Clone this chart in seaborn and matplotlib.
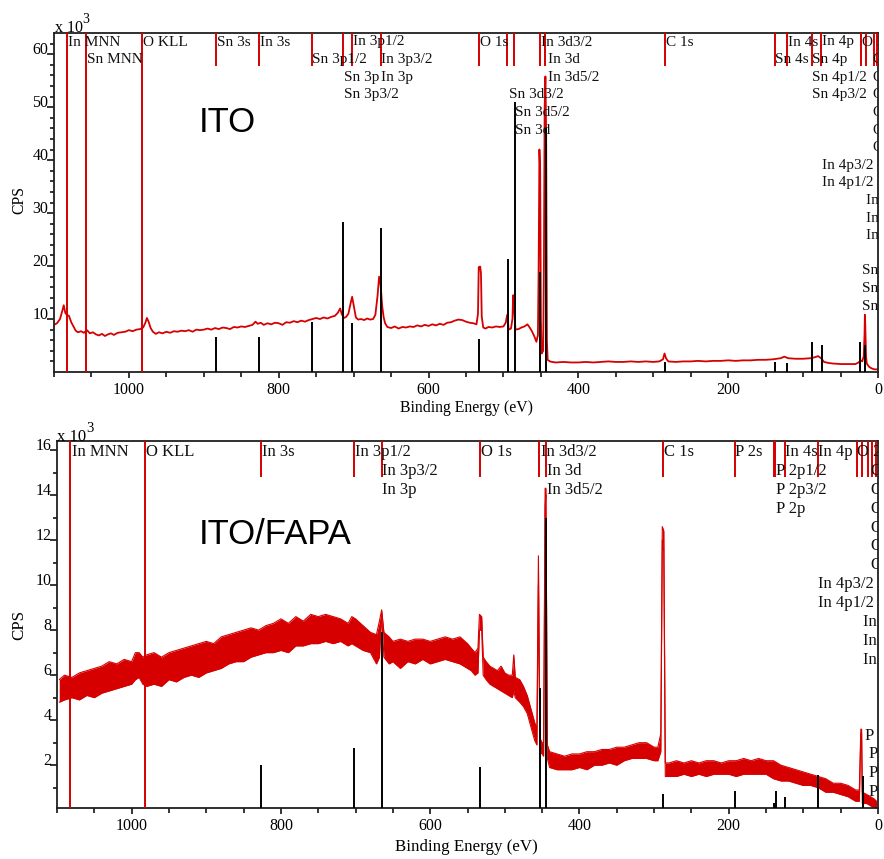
import numpy as np
import seaborn as sns
import matplotlib.pyplot as plt

# ---------------- data (binding energy in eV, counts in x10^3 CPS) ----------------
# ITO survey spectrum
ito_ev = [1100, 1096, 1092, 1089, 1087, 1085, 1083, 1080, 1077, 1074, 1071, 1068, 1064, 1060,
          1056, 1052, 1048, 1044, 1040, 1036, 1032, 1028, 1024, 1020, 1015, 1010, 1005, 1000,
          995, 990, 985, 981, 978, 976, 974, 971, 968, 964, 960, 955, 950, 945, 940, 935, 930,
          925, 920, 915, 910, 905, 900, 895, 890, 885, 880, 875, 870, 865, 860, 855, 850, 845,
          840, 835, 831, 828, 824, 820, 815, 810, 805, 800, 795, 790, 785, 780, 775, 770, 765,
          760, 755, 750, 745, 740, 735, 730, 725, 721, 718, 716, 713, 710, 707, 704, 702, 700,
          697, 694, 690, 686, 682, 678, 674, 671, 668, 666, 664, 662, 660, 658, 655, 650, 645,
          640, 635, 630, 625, 620, 615, 610, 605, 600, 595, 590, 585, 580, 575, 570, 565, 560,
          555, 550, 545, 540, 536, 534, 533, 531, 530, 529, 527, 524, 520, 515, 510, 505, 500,
          497, 495, 493, 490, 488, 487, 486, 484, 480, 476, 472, 468, 465, 462, 459, 456, 454,
          453, 452, 451, 450, 449, 447, 446, 445, 444, 443, 442, 441, 438, 435, 430, 420, 410,
          400, 390, 380, 370, 360, 350, 340, 330, 320, 310, 300, 292, 287, 285, 283, 280, 270,
          260, 250, 240, 230, 220, 210, 200, 190, 180, 170, 160, 150, 140, 130, 125, 120, 110,
          100, 90, 84, 80, 76, 72, 66, 60, 50, 40, 30, 26, 23, 21, 19, 18, 17.5, 17, 16, 15,
          12, 10, 7, 5, 2, 0]
ito_cps = [8.9, 9.2, 10.0, 11.5, 12.6, 11.2, 10.8, 10.6, 9.4, 8.6, 7.8, 7.5, 7.7, 7.4,
           7.9, 7.3, 7.5, 7.1, 6.9, 7.2, 6.8, 7.1, 7.3, 7.0, 7.4, 7.5, 7.6, 7.9,
           7.7, 8.0, 8.1, 8.4, 9.3, 10.2, 9.6, 8.3, 7.6, 7.2, 7.5, 7.3, 7.6, 7.4, 7.7, 7.6, 7.8,
           7.7, 7.9, 7.6, 8.0, 7.9, 8.0, 8.2, 8.0, 8.3, 8.1, 8.4, 8.3, 8.1, 8.5, 8.4, 8.6, 8.5,
           8.7, 8.9, 9.5, 9.1, 9.3, 8.9, 9.2, 9.0, 9.3, 9.2, 8.9, 9.4, 9.3, 9.6, 9.4, 9.7, 9.5,
           9.8, 10.0, 10.2, 10.0, 10.3, 10.1, 10.4, 10.6, 11.2, 12.0, 11.0, 10.2, 10.4, 11.0, 13.0, 14.2, 12.6,
           10.3, 9.9, 10.0, 9.8, 10.1, 9.9, 10.0, 10.8, 14.5, 18.0, 16.5, 12.6, 10.4, 9.2, 8.5, 8.3, 8.6,
           8.2, 8.5, 8.4, 8.6, 8.5, 8.8, 8.6, 8.9, 8.7, 9.0, 8.8, 9.1, 8.9, 9.3, 9.4, 9.7, 9.9,
           9.8, 9.5, 9.3, 9.2, 9.0, 11.0, 19.8, 19.9, 18.5, 10.5, 8.4, 8.2, 8.5, 8.4, 8.6, 8.5, 8.6,
           9.3, 10.8, 8.0, 8.2, 10.0, 14.5, 13.0, 8.0, 8.1, 8.4, 8.6, 9.0, 8.4, 7.7, 6.8, 5.7, 7.0,
           20.0, 42.0, 38.0, 10.0, 3.5, 4.0, 20.0, 50.0, 55.8, 45.0, 6.0, 2.3, 2.0, 1.9, 1.8, 1.9, 1.8,
           1.8, 1.9, 1.8, 1.9, 2.0, 1.9, 1.9, 2.0, 1.9, 2.0, 1.9, 2.0, 2.4, 3.5, 2.6, 2.0, 1.9,
           2.0, 2.0, 2.1, 2.0, 2.1, 2.1, 2.2, 2.1, 2.2, 2.2, 2.3, 2.3, 2.4, 2.6, 2.9, 2.6, 2.5,
           2.5, 2.6, 2.8, 3.0, 2.6, 1.9, 1.7, 1.6, 1.5, 1.5, 1.5, 1.8, 2.2, 2.0, 3.0, 7.0, 10.8, 9.0, 3.0, 1.6,
           1.0, 0.8, 0.6, 0.5, 0.5, 0.5]

# ITO reference sticks (black)
ito_stick_ev = [884, 827, 756, 714, 702, 664, 532, 494, 485, 451, 443, 284, 137, 121, 88, 75, 24, 17]
ito_stick_cps = [6.6, 6.6, 9.4, 28.3, 9.2, 27.2, 6.2, 21.3, 51.0, 18.9, 46.0, 1.9, 1.9, 1.7, 5.7, 5.1, 5.7, 5.1]

# ITO peak markers (red): Auger lines run full height, the rest are short ticks from the top
ito_full_ev = [1083, 1057, 983]
ito_mark_ev = [884, 827, 756, 714, 702, 664, 532, 495, 486, 451, 444, 284, 137, 121, 88, 76, 23, 16, 5, 2]

ito_labels = ["In MNN", "Sn MNN", "O KLL", "Sn 3s", "In 3s", "Sn 3p1/2", "In 3p1/2", "In 3p3/2",
              "Sn 3p", "In 3p", "Sn 3p3/2", "O 1s", "In 3d3/2", "In 3d", "In 3d5/2", "Sn 3d3/2",
              "Sn 3d5/2", "Sn 3d", "C 1s", "Sn 4s", "In 4s", "Sn 4p", "In 4p", "Sn 4p1/2",
              "Sn 4p3/2", "O 2s", "O 2s", "O 2s", "O 2s", "O 2s", "O 2s", "O 2s", "In 4p3/2",
              "In 4p1/2", "In 4d5/2", "In 4d3/2", "In 4d", "Sn 4d5/2", "Sn 4d3/2", "Sn 4d"]
ito_label_ev = [1081, 1056, 981, 883, 825, 755, 701, 663, 713, 663, 713, 531, 450, 441, 441, 493,
                485, 485, 283, 137, 120, 88, 75, 88, 88, 21, 7, 7, 7, 7, 7, 7, 75, 75, 16, 16, 16,
                21, 21, 21]
ito_label_row = [1, 2, 1, 1, 1, 2, 1, 2, 3, 3, 4, 1, 1, 2, 3, 4, 5, 6, 1, 2, 1, 2, 1, 3, 4,
                 1, 2, 3, 4, 5, 6, 7, 8, 9, 10, 11, 12, 14, 15, 16]

# ITO/FAPA survey spectrum: lower and upper edge of the noisy trace
fapa_ev = [1097, 1090, 1080, 1070, 1060, 1050, 1040, 1030, 1020, 1010, 1000, 995, 990, 985, 980,
           970, 960, 950, 940, 930, 920, 910, 900, 890, 880, 870, 860, 850, 840, 830, 820, 810,
           800, 790, 780, 770, 760, 750, 740, 730, 720, 710, 705, 700, 690, 680, 672, 668, 665,
           662, 655, 650, 640, 630, 620, 610, 600, 590, 580, 570, 560, 550, 545, 540, 536, 534,
           531, 529, 525, 520, 515, 510, 505, 500, 495, 490, 488, 486, 480, 475, 470, 465, 460,
           457, 455, 453, 450, 448, 446, 445, 443, 440, 430, 420, 410, 400, 390, 380, 370, 360,
           350, 340, 330, 320, 310, 300, 295, 291, 289, 287, 285, 280, 270, 260, 250, 240, 230,
           220, 210, 200, 190, 180, 170, 160, 150, 140, 130, 120, 110, 100, 90, 80, 70, 60, 50,
           40, 30, 25, 23, 22, 21, 15, 10, 5, 2]
fapa_lo = [4.8, 4.9, 5.0, 4.9, 5.1, 5.0, 5.2, 5.3, 5.4, 5.5, 5.6, 5.8, 5.9, 5.6, 5.5,
           5.6, 5.5, 5.8, 5.7, 5.9, 6.0, 5.9, 6.1, 6.2, 6.3, 6.5, 6.6, 6.6, 6.8, 6.9, 7.0, 7.0,
           7.1, 7.0, 7.3, 7.3, 7.4, 7.4, 7.5, 7.4, 7.5, 7.3, 7.4, 7.3, 7.1, 7.0, 6.5, 6.8, 8.7,
           6.8, 6.5, 6.6, 6.3, 6.6, 6.5, 6.7, 6.5, 6.6, 6.7, 6.6, 6.5, 6.3, 6.2, 6.0, 6.1, 8.0,
           8.0, 6.0, 5.8, 5.6, 5.5, 5.4, 5.3, 5.2, 5.1, 5.0, 5.3, 5.0, 4.8, 4.6, 4.3, 3.7, 3.1,
           2.9, 10.0, 2.6, 2.5, 2.4, 13.5, 14.0, 2.3, 1.9, 1.8, 1.8, 1.8, 1.9, 1.8, 2.0, 2.0, 2.1,
           2.0, 2.2, 2.3, 2.3, 2.3, 2.2, 2.2, 2.6, 12.0, 11.5, 1.5, 1.5, 1.5, 1.6, 1.5, 1.6, 1.5,
           1.6, 1.6, 1.6, 1.5, 1.6, 1.6, 1.6, 1.6, 1.4, 1.3, 1.3, 1.2, 1.1, 1.1, 1.0, 0.8, 0.8, 0.7,
           0.6, 0.4, 0.4, 3.4, 3.4, 0.3, 0.3, 0.2, 0.1, 0.1]
fapa_hi = [5.8, 6.0, 5.9, 6.1, 6.2, 6.3, 6.4, 6.6, 6.5, 6.7, 6.6, 7.0, 7.0, 6.8, 6.9,
           7.0, 6.8, 7.0, 7.1, 7.2, 7.3, 7.4, 7.5, 7.4, 7.7, 7.8, 7.9, 8.0, 8.1, 8.0, 8.2, 8.3,
           8.5, 8.3, 8.6, 8.4, 8.7, 8.6, 8.7, 8.6, 8.5, 8.3, 8.6, 8.5, 8.2, 7.9, 7.8, 8.4, 8.9,
           7.9, 7.7, 7.5, 7.6, 7.5, 7.6, 7.6, 7.5, 7.6, 7.7, 7.6, 7.7, 7.4, 7.2, 7.0, 7.2, 8.7,
           8.6, 6.8, 6.6, 6.4, 6.3, 6.2, 6.4, 6.1, 6.0, 6.0, 6.9, 5.9, 5.8, 5.5, 5.1, 4.5, 3.9,
           3.6, 11.3, 3.2, 3.0, 3.0, 14.3, 14.3, 2.9, 2.6, 2.5, 2.4, 2.5, 2.5, 2.6, 2.6, 2.7, 2.7,
           2.8, 2.8, 2.9, 3.0, 3.0, 2.8, 2.8, 3.4, 12.6, 12.4, 2.1, 2.1, 2.2, 2.1, 2.2, 2.1, 2.2,
           2.2, 2.1, 2.2, 2.2, 2.3, 2.2, 2.3, 2.2, 2.2, 2.0, 1.9, 1.8, 1.7, 1.6, 1.5, 1.4, 1.2, 1.2,
           1.1, 0.9, 0.9, 3.6, 3.6, 0.8, 0.7, 0.6, 0.5, 0.4]

fapa_stick_ev = [827, 702, 665, 533, 453, 445, 288, 192, 139, 137, 125, 81, 29, 20]
fapa_stick_cps = [2.0, 2.75, 7.9, 1.9, 5.45, 13.0, 0.7, 0.85, 0.3, 0.85, 0.6, 1.55, 0.1, 1.5]

fapa_full_ev = [1082, 982]
fapa_mark_ev = [827, 702, 665, 533, 454, 445, 288, 192, 140, 138, 125, 81, 28, 21, 13, 7.6, 3]

fapa_labels = ["In MNN", "O KLL", "In 3s", "In 3p1/2", "In 3p3/2", "In 3p", "O 1s", "In 3d3/2",
               "In 3d", "In 3d5/2", "C 1s", "P 2s", "In 4s", "In 4p", "P 2p1/2", "P 2p3/2", "P 2p",
               "O 2s", "O 2s", "O 2s", "O 2s", "O 2s", "O 2s", "O 2s", "In 4p3/2", "In 4p1/2",
               "In 4d5/2", "In 4d3/2", "In 4d", "P 3s", "P 3p1/2", "P 3p3/2", "P 3p"]
fapa_label_ev = [1080, 981, 825, 701, 664, 664, 532, 452, 444, 444, 287, 191, 124, 80, 137, 137,
                 137, 28, 9, 9, 9, 9, 9, 9, 81, 81, 20, 20, 20, 17, 12, 12, 12]
fapa_label_row = [1, 1, 1, 1, 2, 3, 1, 1, 2, 3, 1, 1, 1, 1, 2, 3, 4,
                  1, 2, 3, 4, 5, 6, 7, 8, 9, 10, 11, 12, 16, 17, 18, 19]

# ---------------- figure ----------------
sns.set_style("ticks")
plt.rcParams['font.family'] = ['Liberation Serif', 'DejaVu Serif']
plt.rcParams['text.color'] = 'black'
plt.rcParams['xtick.color'] = 'black'
plt.rcParams['ytick.color'] = 'black'

RED = '#d60000'
W, H = 884, 859
PX = 72 / 100  # points per pixel at dpi 100

fig = plt.figure(figsize=(W / 100, H / 100), dpi=100)
ax1 = fig.add_axes([54 / W, 1 - 372 / H, 824 / W, 339 / H])
ax2 = fig.add_axes([57 / W, 1 - 808 / H, 821 / W, 367 / H])


def style_axis(ax, ylim, ymajor, yminor):
    ax.set_xlim(1100, 0)
    ax.set_ylim(*ylim)
    ax.set_xticks([1000, 800, 600, 400, 200, 0])
    ax.set_xticks(np.arange(1100, -1, -50), minor=True)
    ax.set_yticks(ymajor)
    ax.set_yticks(yminor, minor=True)
    ax.tick_params(axis='x', which='major', direction='out', length=6 * PX, width=1.1,
                   labelsize=11.5, pad=3)
    ax.tick_params(axis='x', which='minor', direction='out', length=5 * PX, width=1.1)
    ax.tick_params(axis='y', which='major', direction='out', length=7 * PX, width=1.1,
                   labelsize=11.5, pad=-1)
    ax.tick_params(axis='y', which='minor', direction='out', length=4 * PX, width=1.1)
    for lab in ax.get_yticklabels():
        lab.set_verticalalignment('baseline')
    for s in ax.spines.values():
        s.set_visible(True)
        s.set_linewidth(1.3)
        s.set_color('#202020')
    ax.set_xlabel('')
    ax.set_ylabel('')


def draw_markers(ax, full_ev, mark_ev, short_frac, labels, label_ev, label_row,
                 row0, row_step, height_px, fsize):
    tr = ax.get_xaxis_transform()
    ax.vlines(full_ev, 0, 1, transform=tr, color=RED, lw=1.4, zorder=3)
    ax.vlines(mark_ev, 1 - short_frac, 1, transform=tr, color=RED, lw=1.4, zorder=3)
    for name, ev, row in zip(labels, label_ev, label_row):
        yf = 1 - (row0 + (row - 1) * row_step) / height_px
        ax.text(ev, yf, name, transform=tr, ha='left', va='center', fontsize=fsize,
                color='#111111', clip_on=True, zorder=5)


# ---- top panel: ITO ----
sns.lineplot(x=ito_ev, y=ito_cps, ax=ax1, color=RED, lw=1.3, estimator=None, zorder=2)
ax1.vlines(ito_stick_ev, 0, ito_stick_cps, color='black', lw=1.4, zorder=4)
draw_markers(ax1, ito_full_ev, ito_mark_ev, 33 / 339, ito_labels, ito_label_ev, ito_label_row,
             9, 17.6, 339, 11)
style_axis(ax1, (0, 64), [10, 20, 30, 40, 50, 60], np.arange(2, 64, 2))

# ---- bottom panel: ITO/FAPA ----
ax2.fill_between(fapa_ev, fapa_lo, fapa_hi, color=RED, lw=0, zorder=2)
sns.lineplot(x=fapa_ev, y=fapa_hi, ax=ax2, color=RED, lw=0.8, estimator=None, zorder=2)
sns.lineplot(x=fapa_ev, y=fapa_lo, ax=ax2, color=RED, lw=0.8, estimator=None, zorder=2)
ax2.vlines(fapa_stick_ev, 0, fapa_stick_cps, color='black', lw=1.4, zorder=4)
draw_markers(ax2, fapa_full_ev, fapa_mark_ev, 36 / 367, fapa_labels, fapa_label_ev,
             fapa_label_row, 11, 18.9, 367, 12)
style_axis(ax2, (0.1, 16.4), [2, 4, 6, 8, 10, 12, 14, 16], np.arange(1, 17, 1))

# ---- outer texts ----
fig.text(466 / W, 1 - 408 / H, 'Binding Energy (eV)', ha='center', va='center', fontsize=11.3)
fig.text(466 / W, 1 - 847 / H, 'Binding Energy (eV)', ha='center', va='center', fontsize=12.2)
fig.text(19 / W, 1 - 200 / H, 'CPS', ha='center', va='center', rotation=90, fontsize=11.3)
fig.text(19 / W, 1 - 625 / H, 'CPS', ha='center', va='center', rotation=90, fontsize=12.2)

fig.text(55 / W, 1 - 32 / H, 'x 10', ha='left', va='baseline', fontsize=11.5)
fig.text(82 / W, 1 - 23 / H, '3', ha='left', va='baseline', fontsize=10)
fig.text(57 / W, 1 - 441 / H, 'x 10', ha='left', va='baseline', fontsize=12)
fig.text(86 / W, 1 - 432 / H, '3', ha='left', va='baseline', fontsize=10.5)

fig.text(199 / W, 1 - 122 / H, 'ITO', ha='left', va='center', fontsize=25,
         family='Liberation Sans', color='black')
fig.text(199 / W, 1 - 535 / H, 'ITO/FAPA', ha='left', va='center', fontsize=25,
         family='Liberation Sans', color='black')

fig.savefig('out.png', dpi=100)
